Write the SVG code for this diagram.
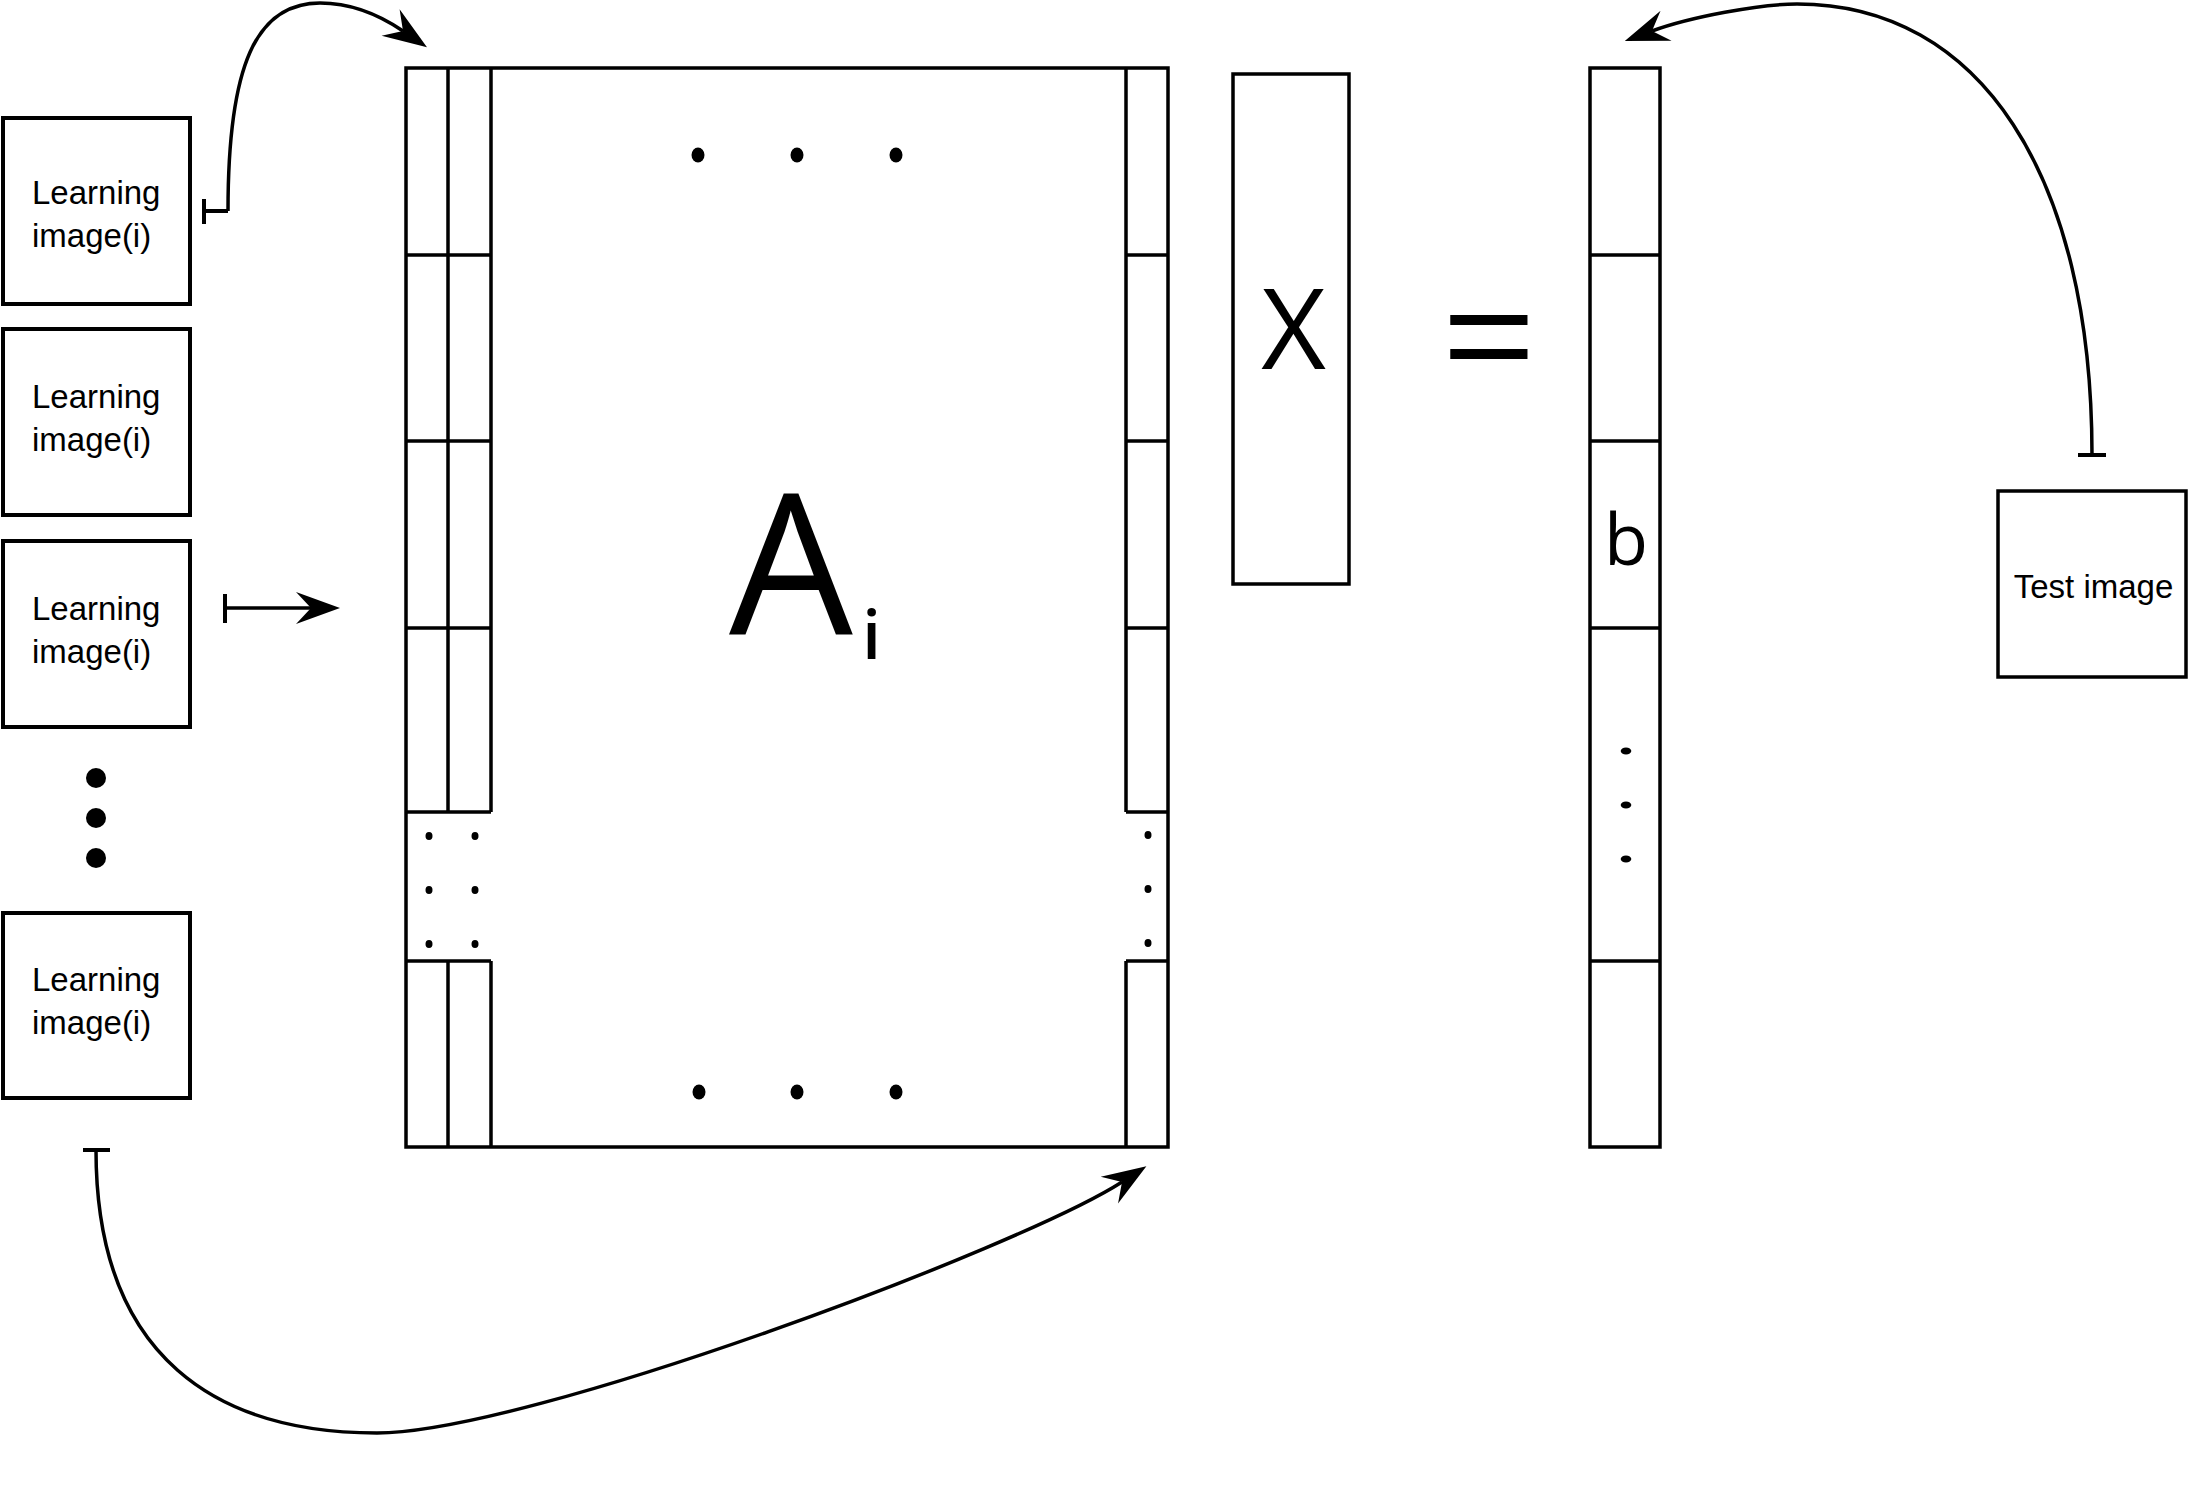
<svg xmlns="http://www.w3.org/2000/svg" width="2188" height="1488" viewBox="0 0 2188 1488">
<style>
.box{fill:#fff;stroke:#000;stroke-width:4}
.ln{fill:none;stroke:#000;stroke-width:3.5}
.con{fill:none;stroke:#000;stroke-width:3.5}
.bar{fill:none;stroke:#000;stroke-width:4}
.lbl{font-family:"Liberation Sans",Arial,sans-serif;font-size:33px;fill:#000}
.big{font-family:"Open Sans","Liberation Sans",sans-serif;fill:#000}
</style>
<defs>
<marker id="ah" viewBox="-18 -18 50 36" markerWidth="50" markerHeight="36" refX="0" refY="0" markerUnits="userSpaceOnUse" orient="auto">
<path d="M29,0 L-15,-16 L0,0 L-15,16 Z" fill="#000"/>
</marker>
</defs>
<rect width="2188" height="1488" fill="#fff"/>

<g id="learning1">
<rect class="box" x="3" y="118" width="187" height="186"/>
<text class="lbl" x="32" y="204">Learning</text>
<text class="lbl" x="32" y="247">image(i)</text>
</g>
<g id="learning2">
<rect class="box" x="3" y="329" width="187" height="186"/>
<text class="lbl" x="32" y="408">Learning</text>
<text class="lbl" x="32" y="451">image(i)</text>
</g>
<g id="learning3">
<rect class="box" x="3" y="541" width="187" height="186"/>
<text class="lbl" x="32" y="620">Learning</text>
<text class="lbl" x="32" y="663">image(i)</text>
</g>
<g id="vdots">
<circle cx="96" cy="778" r="10"/>
<circle cx="96" cy="818" r="10"/>
<circle cx="96" cy="858" r="10"/>
</g>
<g id="learning4">
<rect class="box" x="3" y="913" width="187" height="185"/>
<text class="lbl" x="32" y="991">Learning</text>
<text class="lbl" x="32" y="1034">image(i)</text>
</g>

<g id="matrixA">
<rect class="ln" x="406" y="68" width="762" height="1079" fill="#fff"/>
<path class="ln" d="M448,68V812M491,68V812M448,961V1147M491,961V1147M1126,68V812M1126,961V1147"/>
<path class="ln" d="M406,255H491M406,441H491M406,628H491M406,812H491M406,961H491M1126,255H1168M1126,441H1168M1126,628H1168M1126,812H1168M1126,961H1168"/>
<g id="dotsA">
<ellipse cx="429" cy="836" rx="3.5" ry="4"/><ellipse cx="475" cy="836" rx="3.5" ry="4"/><ellipse cx="1148" cy="835" rx="3.5" ry="4"/>
<ellipse cx="429" cy="890" rx="3.5" ry="4"/><ellipse cx="475" cy="890" rx="3.5" ry="4"/><ellipse cx="1148" cy="889" rx="3.5" ry="4"/>
<ellipse cx="429" cy="944" rx="3.5" ry="4"/><ellipse cx="475" cy="944" rx="3.5" ry="4"/><ellipse cx="1148" cy="943" rx="3.5" ry="4"/>
<ellipse cx="698" cy="155" rx="6.5" ry="7.5"/><ellipse cx="797" cy="155" rx="6.5" ry="7.5"/><ellipse cx="896" cy="155" rx="6.5" ry="7.5"/>
<ellipse cx="699" cy="1092" rx="6.5" ry="7.5"/><ellipse cx="797" cy="1092" rx="6.5" ry="7.5"/><ellipse cx="896" cy="1092" rx="6.5" ry="7.5"/>
</g>
<text class="big" x="791" y="634" font-size="196" text-anchor="middle">A</text>
<text class="big" x="871.5" y="659" font-size="67" font-weight="600" text-anchor="middle">i</text>
</g>

<g id="vectorX">
<rect class="ln" x="1233" y="74" width="116" height="510" fill="#fff"/>
<text class="big" x="1293.5" y="369" font-size="112" text-anchor="middle">X</text>
</g>

<g id="equals">
<text x="1489" y="382" font-family="Liberation Sans, Arial, sans-serif" font-size="137" text-anchor="middle" transform="translate(1489 0) scale(1.16 1) translate(-1489 0)">=</text>
</g>

<g id="vectorB">
<rect class="ln" x="1590" y="68" width="70" height="1079" fill="#fff"/>
<path class="ln" d="M1590,255H1660M1590,441H1660M1590,628H1660M1590,961H1660"/>
<ellipse cx="1626" cy="751" rx="5.3" ry="3.5"/>
<ellipse cx="1626" cy="805" rx="5.3" ry="3.5"/>
<ellipse cx="1626" cy="859" rx="5.3" ry="3.5"/>
<text class="big" x="1626" y="565" font-size="72" text-anchor="middle">b</text>
</g>

<g id="testImage">
<rect class="box" x="1998" y="491" width="188" height="186" style="stroke-width:3.5"/>
<text class="lbl" x="2093.5" y="598" text-anchor="middle">Test image</text>
</g>

<g id="connectors">
<path class="bar" d="M204,199V224M204,211H228"/>
<path class="con" d="M228,211 C228,65 256,3 320,3 C350,3 378,14 403,31" marker-end="url(#ah)"/>
<path class="bar" d="M225,594V623"/>
<path class="con" d="M225,608H311" marker-end="url(#ah)"/>
<path class="bar" d="M83,1150H110"/>
<path class="con" d="M96,1150 C96,1360 220,1433 377,1433 C527,1433 1021,1247 1122,1182" marker-end="url(#ah)"/>
<path class="bar" d="M2078,455H2106"/>
<path class="con" d="M2092,455 C2092,175 1980,4 1797,4 C1760,4 1690,17 1652,31" marker-end="url(#ah)"/>
</g>
</svg>
